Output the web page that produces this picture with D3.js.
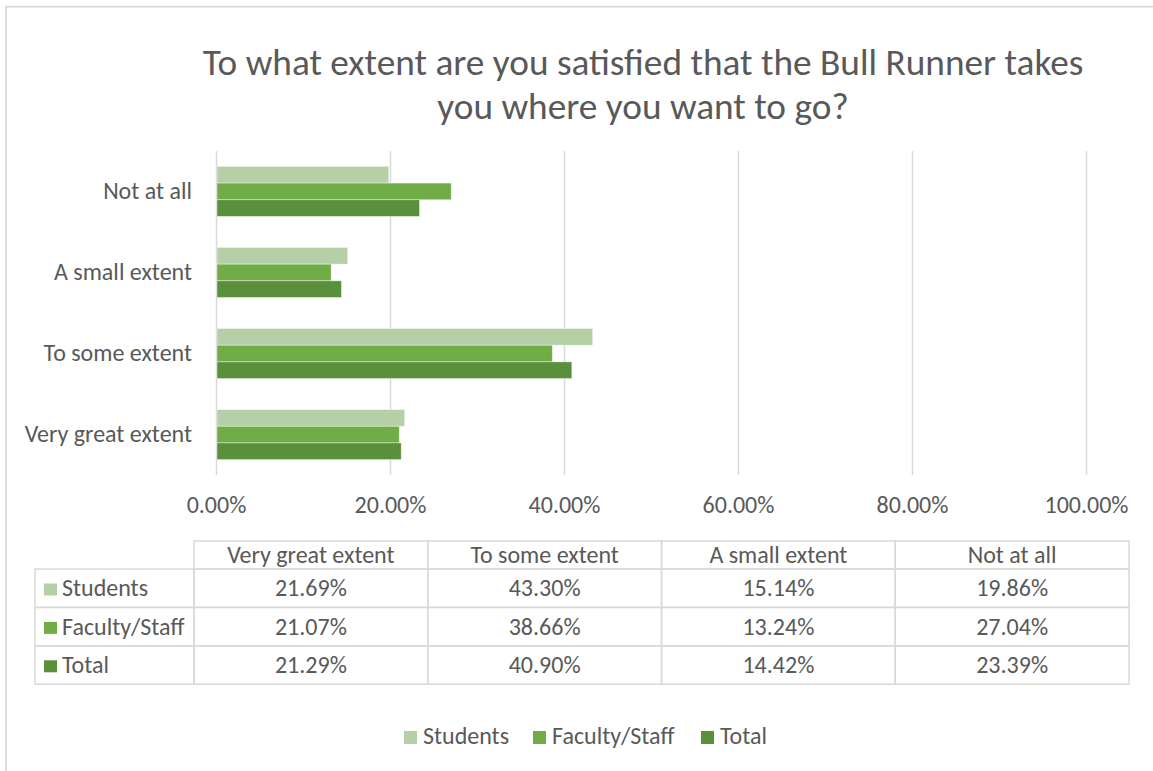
<!DOCTYPE html>
<html>
<head>
<meta charset="utf-8">
<script src="https://cdn.jsdelivr.net/npm/d3@7"></script>
<style>
  html, body { margin: 0; padding: 0; background: #fff; }
  svg text { font-family: Carlito, Calibri, "Open Sans", sans-serif; fill: #595959; }
</style>
</head>
<body>
<svg id="chart" width="1153" height="771"></svg>
<script>
// Survey categories in table order (left to right)
const categories = ["Very great extent", "To some extent", "A small extent", "Not at all"];
const seriesNames = ["Students", "Faculty/Staff", "Total"];
const students = [21.69, 43.30, 15.14, 19.86];
const facultyStaff = [21.07, 38.66, 13.24, 27.04];
const total = [21.29, 40.90, 14.42, 23.39];
const xTicks = [0, 20, 40, 60, 80, 100];
const seriesColors = ["#b5cfa7", "#70ad47", "#5a8f3b"];
const titleLines = ["To what extent are you satisfied that the Bull Runner takes", "you where you want to go?"];

const seriesValues = [students, facultyStaff, total];
const rows = categories.map((c, i) => {
  const r = { category: c };
  seriesNames.forEach((s, j) => { r[s] = seriesValues[j][i]; });
  return r;
});

const FONT = 'Carlito, Calibri, "Open Sans", sans-serif';
const BODY = "24px";
const svg = d3.select("#chart");
const grid = "#d9d9d9";

// chart border (runs off the right and bottom of the canvas)
svg.append("rect")
  .attr("x", 6).attr("y", 6.7).attr("width", 1200).attr("height", 800)
  .attr("fill", "#fff").attr("stroke", grid).attr("stroke-width", 1.8);

// title
svg.append("g").selectAll("text").data(titleLines).join("text")
  .attr("x", 643).attr("y", (d, i) => 75 + i * 44)
  .attr("text-anchor", "middle")
  .style("font-size", "37.3px")
  .text(d => d);

// scales
const x = d3.scaleLinear().domain([0, 100]).range([216, 1086]);
const y = d3.scaleBand().domain(categories.slice().reverse()).range([151, 475])
  .paddingInner(0.383).paddingOuter(0.19);
const ySub = d3.scaleBand().domain(seriesNames).range([0, y.bandwidth()]);

// gridlines
const gridAxis = d3.axisBottom(x).tickValues(xTicks).tickSize(-(475 - 151)).tickFormat("");
const gg = svg.append("g").attr("transform", "translate(0,475)").call(gridAxis);
gg.select(".domain").remove();
gg.selectAll(".tick line").attr("stroke", grid).attr("stroke-width", 1.5);

// tick labels
const tickAxis = d3.axisBottom(x).tickValues(xTicks).tickSize(0)
  .tickFormat(d => d3.format(".2f")(d) + "%");
const tg = svg.append("g").attr("transform", "translate(0,497)").call(tickAxis);
tg.select(".domain").remove();
tg.selectAll(".tick text").attr("dy", null).attr("y", 16)
  .style("font-size", BODY).attr("fill", "#595959")
  .style("font-family", FONT);

// bars
const groups = svg.append("g").selectAll("g").data(rows).join("g")
  .attr("transform", d => `translate(0,${y(d.category)})`);
groups.selectAll("rect").data(d => seriesNames.map((s, j) => ({ s, j, v: d[s] }))).join("rect")
  .attr("x", x(0) + 1)
  .attr("y", d => ySub(d.s))
  .attr("width", d => x(d.v) - x(0) - 1)
  .attr("height", ySub.bandwidth())
  .attr("fill", d => seriesColors[d.j])
  .attr("stroke", "rgba(255,255,255,0.5)").attr("stroke-width", 0.8);

// category labels
const yAxis = d3.axisLeft(y).tickSize(0).tickPadding(0);
const yg = svg.append("g").attr("transform", "translate(192,0)").call(yAxis);
yg.select(".domain").remove();
yg.selectAll(".tick text").attr("dy", "0.3em")
  .style("font-size", BODY).attr("fill", "#595959")
  .style("font-family", FONT);

// data table
const tableLeft = 35, labelColRight = 194, tableRight = 1129;
const headerTop = 541, headerBottom = 569, rowH = 38.4;
const colX = d3.scaleBand().domain(categories).range([labelColRight, tableRight]);
const tbl = svg.append("g");

// header cells
tbl.selectAll("rect.h").data(categories).join("rect").attr("class", "h")
  .attr("x", d => colX(d)).attr("y", headerTop)
  .attr("width", colX.bandwidth()).attr("height", headerBottom - headerTop)
  .attr("fill", "none").attr("stroke", grid).attr("stroke-width", 1.5);
tbl.selectAll("text.h").data(categories).join("text").attr("class", "h")
  .attr("x", d => colX(d) + colX.bandwidth() / 2).attr("y", headerTop + 21.5)
  .attr("text-anchor", "middle").style("font-size", BODY).text(d => d);

// body rows
seriesNames.forEach((s, j) => {
  const top = headerBottom + j * rowH;
  tbl.append("rect").attr("x", tableLeft).attr("y", top)
    .attr("width", labelColRight - tableLeft).attr("height", rowH)
    .attr("fill", "none").attr("stroke", grid).attr("stroke-width", 1.5);
  tbl.append("rect").attr("x", 44).attr("y", top + 14.5).attr("width", 13).attr("height", 12)
    .attr("fill", seriesColors[j]);
  tbl.append("text").attr("x", 62).attr("y", top + 27.3).style("font-size", BODY).text(s);
  categories.forEach((c, i) => {
    tbl.append("rect").attr("x", colX(c)).attr("y", top)
      .attr("width", colX.bandwidth()).attr("height", rowH)
      .attr("fill", "none").attr("stroke", grid).attr("stroke-width", 1.5);
    tbl.append("text").attr("x", colX(c) + colX.bandwidth() / 2).attr("y", top + 27.3)
      .attr("text-anchor", "middle").style("font-size", BODY)
      .text(d3.format(".2f")(seriesValues[j][i]) + "%");
  });
});

// legend
const legendX = [404, 533, 701];
const lg = svg.append("g").selectAll("g").data(seriesNames).join("g")
  .attr("transform", (d, i) => `translate(${legendX[i]},731)`);
lg.append("rect").attr("width", 13).attr("height", 13).attr("fill", (d, i) => seriesColors[i]);
lg.append("text").attr("x", 19).attr("y", 12.5).style("font-size", BODY).text(d => d);
</script>
</body>
</html>
